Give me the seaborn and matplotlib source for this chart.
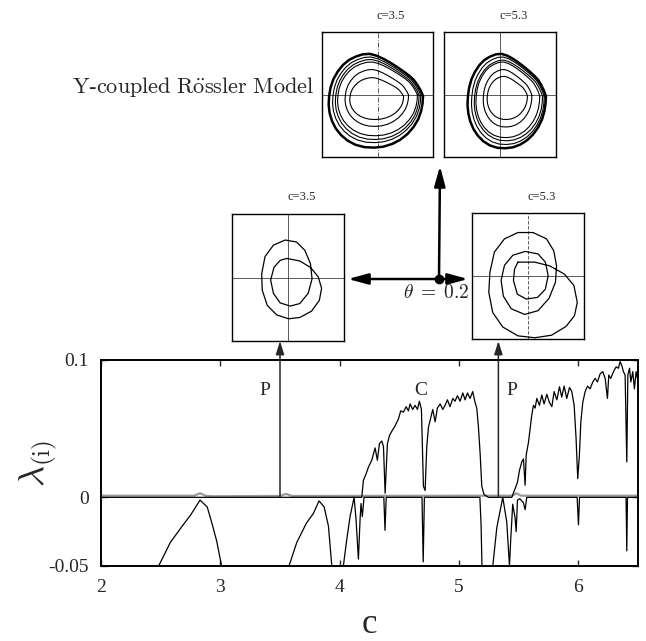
import numpy as np
import matplotlib
matplotlib.use("Agg")
import matplotlib.pyplot as plt
import seaborn as sns

# ---------------- data: Lyapunov exponents vs c ----------------
c1 = [2.00, 4.185, 4.199, 4.221, 4.241, 4.269, 4.297, 4.316, 4.333, 4.353, 4.367, 4.381,
      4.400, 4.417, 4.436, 4.464, 4.492, 4.512, 4.534, 4.557, 4.576, 4.590,
      4.612, 4.632, 4.652, 4.668, 4.685, 4.702, 4.716, 4.730, 4.744, 4.758,
      4.780, 4.800, 4.819, 4.842, 4.864, 4.883, 4.903, 4.925, 4.948, 4.967,
      4.987, 5.009, 5.032, 5.051, 5.071, 5.093, 5.115, 5.135, 5.149, 5.163,
      5.177, 5.191, 5.210, 5.247,
      5.442, 5.470, 5.490, 5.507, 5.526, 5.540, 5.554, 5.563, 5.582, 5.596,
      5.610, 5.624, 5.638, 5.652, 5.674, 5.694, 5.713, 5.736, 5.758, 5.778,
      5.797, 5.820, 5.842, 5.861, 5.881, 5.903, 5.926, 5.945, 5.965, 5.981,
      5.995, 6.009, 6.021, 6.037, 6.057, 6.077, 6.099, 6.121, 6.141, 6.160,
      6.183, 6.205, 6.225, 6.244, 6.255, 6.272, 6.294, 6.317, 6.336, 6.350,
      6.364, 6.378, 6.392, 6.406, 6.415, 6.429, 6.440, 6.456, 6.470, 6.484, 6.495]
lam1 = [0, 0, 0.0124, 0.017, 0.022, 0.027, 0.036, 0.027, 0.039, 0.041, 0.037, 0.003,
        0.039, 0.045, 0.048, 0.052, 0.057, 0.063, 0.062, 0.066, 0.063, 0.068,
        0.064, 0.067, 0.064, 0.070, 0.064, 0.008, 0.005, 0.037, 0.051, 0.056,
        0.064, 0.055, 0.065, 0.068, 0.064, 0.067, 0.071, 0.066, 0.072, 0.070,
        0.074, 0.070, 0.076, 0.071, 0.076, 0.072, 0.077, 0.069, 0.065, 0.051,
        0.032, 0.008, 0.002, 0.0,
        0.0, 0.0063, 0.011, 0.0197, 0.0258, 0.028, 0.0088, 0.0307, 0.040, 0.050,
        0.060, 0.067, 0.065, 0.072, 0.067, 0.0745, 0.068, 0.075, 0.069, 0.066,
        0.077, 0.071, 0.0805, 0.073, 0.081, 0.072, 0.080, 0.077, 0.067, 0.043,
        0.0136, 0.031, 0.055, 0.069, 0.077, 0.081, 0.079, 0.084, 0.0866, 0.084,
        0.090, 0.0915, 0.0866, 0.072, 0.089, 0.0866, 0.0915, 0.095, 0.094, 0.0988,
        0.096, 0.0915, 0.089, 0.0258, 0.089, 0.094, 0.084, 0.0915, 0.079, 0.0915, 0.0866]

c2 = [2.0, 2.46, 2.48, 2.58, 2.68, 2.75, 2.83, 2.89, 2.93, 2.97,
      3.01, 3.03, 3.55, 3.576, 3.64, 3.72, 3.78, 3.827, 3.87, 3.906,
      3.934, 3.95, 4.01, 4.031, 4.059, 4.087, 4.121, 4.137, 4.157, 4.171,
      4.179, 4.19, 4.204, 4.37, 4.38, 4.39, 4.69, 4.70, 4.71, 5.175,
      5.185, 5.20, 5.21, 5.27, 5.283, 5.317, 5.367, 5.40, 5.423, 5.434,
      5.45, 5.47, 5.479, 5.49, 5.51, 5.54, 5.554, 5.568, 5.99, 6.001,
      6.01, 6.40, 6.406, 6.412, 6.5]
lam2 = [-0.08, -0.08, -0.0505, -0.033, -0.021, -0.013, -0.002, -0.007, -0.019, -0.032,
        -0.0498, -0.08, -0.08, -0.0498, -0.033, -0.019, -0.0117, -0.0026, -0.007, -0.021,
        -0.0498, -0.08, -0.08, -0.05, -0.031, -0.014, 0.0, -0.016, -0.045, -0.016,
        -0.0045, -0.014, 0.0, 0.0, -0.024, 0.0, 0.0, -0.047, 0.0, 0.0,
        -0.02, -0.08, -0.08, -0.08, -0.05, -0.022, 0.0, -0.018, -0.05, -0.03,
        -0.005, -0.015, -0.025, -0.002, -0.001, -0.004, -0.009, 0.0, 0.0, -0.02,
        0.0, 0.0, -0.039, 0.0, 0.0]

c0 = [2.0, 2.78, 2.83, 2.88, 2.95, 3.50, 3.55, 3.60, 5.45, 5.48, 5.52, 6.5]
lam0 = [0.0012, 0.0012, 0.0030, 0.0010, 0.0008, 0.0010, 0.0025, 0.0010, 0.0012, 0.0030, 0.0012, 0.0012]

xticks = [2, 3, 4, 5, 6]
xtick_labels = ["2", "3", "4", "5", "6"]
yticks = [-0.05, 0.0, 0.1]
ytick_labels = ["-0.05", "0", "0.1"]

region_c = [3.375, 4.68, 5.44]
region_lab = ["P", "C", "P"]
region_lam = [0.078, 0.078, 0.078]
arrow_c = [3.5, 5.33]

# ---------------- data: phase portraits ----------------
# egg-shaped loop template (normalised to its bounding box), read off the outer loop
tmpl_x = [1.00, 0.95, 0.88, 0.80, 0.70, 0.58, 0.45, 0.31, 0.17, 0.02, -0.13, -0.28,
          -0.43, -0.57, -0.70, -0.81, -0.90, -0.96, -0.99, -1.00, -0.98, -0.93,
          -0.85, -0.74, -0.60, -0.43, -0.24, -0.04, 0.16, 0.35, 0.52, 0.67,
          0.80, 0.90, 0.96, 0.99]
tmpl_y = [0.10, 0.22, 0.34, 0.45, 0.54, 0.63, 0.72, 0.81, 0.89, 0.96, 1.00, 0.99,
          0.94, 0.87, 0.76, 0.62, 0.46, 0.28, 0.10, -0.08, -0.26, -0.43,
          -0.59, -0.73, -0.85, -0.94, -0.99, -1.00, -0.98, -0.92, -0.83, -0.71,
          -0.56, -0.39, -0.22, -0.06]

# Y-coupled, c=3.5 (chaotic band) : loop extents
tl_left = [-0.88, -0.81, -0.76, -0.72, -0.585, -0.50]
tl_right = [0.82, 0.78, 0.75, 0.72, 0.56, 0.47]
tl_bottom = [-0.85, -0.77, -0.72, -0.66, -0.51, -0.40]
tl_top = [0.65, 0.60, 0.56, 0.52, 0.40, 0.27]
# Y-coupled, c=5.3
tr_left = [-0.58, -0.51, -0.46, -0.43, -0.30, -0.23]
tr_right = [0.82, 0.79, 0.76, 0.71, 0.57, 0.49]
tr_bottom = [-0.86, -0.80, -0.74, -0.69, -0.52, -0.40]
tr_top = [0.65, 0.60, 0.55, 0.52, 0.40, 0.29]
loop_lw = [1.8, 0.8, 0.8, 0.8, 0.8, 0.8]

# theta = 0.2, c=3.5 : period-2 orbit
ml_u = [-0.02, 0.21, 0.40, 0.54, 0.60, 0.56, 0.42, 0.21, 0.01, -0.20, -0.37, -0.46, -0.47, -0.41,
        -0.26, -0.05, 0.15, 0.30, 0.40, 0.43, 0.36, 0.21, 0.04, -0.14, -0.26, -0.31, -0.25, -0.14]
ml_v = [0.30, 0.26, 0.16, 0.01, -0.17, -0.36, -0.53, -0.63, -0.65, -0.59, -0.44, -0.20, 0.06, 0.33,
        0.51, 0.59, 0.56, 0.43, 0.22, -0.02, -0.25, -0.41, -0.45, -0.40, -0.25, -0.04, 0.16, 0.27]
# theta = 0.2, c=5.3 : period-3 orbit
mr_u = [-0.18, 0.12, 0.39, 0.65, 0.82, 0.88, 0.83, 0.68, 0.42, 0.12,
        -0.18, -0.45, -0.63, -0.70, -0.68, -0.60, -0.42, -0.18, 0.09, 0.33,
        0.46, 0.51, 0.49, 0.375, 0.18, -0.06, -0.30, -0.44, -0.48, -0.42,
        -0.27, -0.05, 0.18, 0.31, 0.36, 0.31, 0.17, -0.03, -0.19, -0.26, -0.24]
mr_v = [0.22, 0.22, 0.16, 0.03, -0.15, -0.42, -0.63, -0.80, -0.94, -0.98,
        -0.95, -0.81, -0.58, -0.26, 0.06, 0.38, 0.59, 0.69, 0.69, 0.59,
        0.40, 0.16, -0.10, -0.355, -0.55, -0.61, -0.52, -0.32, -0.07, 0.17,
        0.33, 0.39, 0.35, 0.22, 0.005, -0.21, -0.34, -0.365, -0.29, -0.07, 0.11]

# ---------------- style ----------------
sns.set_style("ticks")
plt.rcParams["font.family"] = ["Liberation Serif", "DejaVu Serif"]
plt.rcParams["mathtext.fontset"] = "cm"
plt.rcParams["axes.unicode_minus"] = False

W, H = 646, 641
fig = plt.figure(figsize=(W / 100, H / 100), dpi=100)


def rect(x0, y0, x1, y1):
    return [x0 / W, 1 - y1 / H, (x1 - x0) / W, (y1 - y0) / H]


# ---------------- main panel ----------------
ax = fig.add_axes(rect(101, 360, 638, 566))
sns.lineplot(x=c0, y=lam0, ax=ax, color="0.6", lw=1.6, sort=False, estimator=None)
sns.lineplot(x=c2, y=lam2, ax=ax, color="k", lw=0.9, sort=False, estimator=None)
sns.lineplot(x=c1, y=lam1, ax=ax, color="k", lw=0.9, sort=False, estimator=None)
ax.set_xlim(2, 6.5)
ax.set_ylim(-0.05, 0.1)
ax.set_xticks(xticks)
ax.set_xticklabels(xtick_labels)
ax.set_yticks(yticks)
ax.set_yticklabels(ytick_labels)
ax.tick_params(direction="in", top=True, right=True, length=4, width=1,
               labelsize=14, pad=9)
for s in ax.spines.values():
    s.set_linewidth(1.4)
    s.set_color("k")
ax.set_xlabel("c", fontsize=25)
ax.xaxis.label.set_va("baseline")
ax.xaxis.set_label_coords(0.5, -0.325)
ax.set_ylabel(r"$\lambda_{(\mathrm{i})}$", fontsize=26)
ax.yaxis.set_label_coords(-0.078, 0.5)

for cc, lab, yy in zip(region_c, region_lab, region_lam):
    ax.text(cc, yy, lab, ha="center", va="center", fontsize=14)

inset_bottom_y = 341
for cc in arrow_c:
    ax.annotate("", xy=(cc, 1 - inset_bottom_y / H), xycoords=("data", "figure fraction"),
                xytext=(cc, 0.0), textcoords="data", annotation_clip=False,
                arrowprops=dict(arrowstyle="-|>,head_length=0.8,head_width=0.25",
                                color="0.15", lw=1.1, shrinkA=0, shrinkB=0,
                                mutation_scale=10))

# ---------------- overlay: connecting arrows and labels ----------------
ov = fig.add_axes([0, 0, 1, 1])
ov.set_xlim(0, W)
ov.set_ylim(H, 0)
ov.axis("off")
node = (439, 279)
head = dict(arrowstyle="-|>,head_length=1.1,head_width=0.3", color="k", lw=1.8,
            shrinkA=0, shrinkB=0, mutation_scale=11)
for tip in [(348, 279), (468, 279), (440, 166)]:
    ov.annotate("", xy=tip, xytext=node, arrowprops=head)
ov.plot([node[0]], [node[1]], "o", color="k", ms=6)
ov.text(469, 284, r"$\theta\;=\;0.2$", ha="right", va="top", fontsize=14)
ov.text(314, 87, r"$\mathrm{Y}$-$\mathrm{coupled\ R\ddot{o}ssler\ Model}$",
        ha="right", va="center", fontsize=16)


def make_inset(box, title, title_x, title_y, vls):
    a = fig.add_axes(rect(*box))
    a.set_xlim(-1, 1)
    a.set_ylim(-1, 1)
    a.axhline(0, color="0.25", lw=0.6)
    a.axvline(0, color="0.25", lw=0.6, ls=vls)
    a.set_xticks([])
    a.set_yticks([])
    for s in a.spines.values():
        s.set_linewidth(1.0)
        s.set_color("k")
    fig.text(title_x / W, 1 - title_y / H, title, ha="center", va="center", fontsize=9)
    return a


tx = np.array(tmpl_x + tmpl_x[:1])
ty = np.array(tmpl_y + tmpl_y[:1])

a_tl = make_inset((322, 32, 433, 157), "c=3.5", 391, 16, (0, (6, 2, 1, 2)))
for L, R, B, T, lw in zip(tl_left, tl_right, tl_bottom, tl_top, loop_lw):
    sns.lineplot(x=(L + R) / 2 + tx * (R - L) / 2, y=(B + T) / 2 + ty * (T - B) / 2,
                 ax=a_tl, color="k", lw=lw, sort=False, estimator=None)

a_tr = make_inset((444, 32, 556, 157), "c=5.3", 514, 16, "-")
for L, R, B, T, lw in zip(tr_left, tr_right, tr_bottom, tr_top, loop_lw):
    sns.lineplot(x=(L + R) / 2 + tx * (R - L) / 2, y=(B + T) / 2 + ty * (T - B) / 2,
                 ax=a_tr, color="k", lw=lw, sort=False, estimator=None)

a_ml = make_inset((232, 214, 344, 341), "c=3.5", 302, 197, "-")
sns.lineplot(x=ml_u + ml_u[:1], y=ml_v + ml_v[:1], ax=a_ml, color="k", lw=0.9,
             sort=False, estimator=None)

a_mr = make_inset((472, 213, 584, 339), "c=5.3", 542, 197, (0, (4, 2)))
sns.lineplot(x=mr_u + mr_u[:1], y=mr_v + mr_v[:1], ax=a_mr, color="k", lw=0.9,
             sort=False, estimator=None)

fig.savefig("out.png", dpi=100)
